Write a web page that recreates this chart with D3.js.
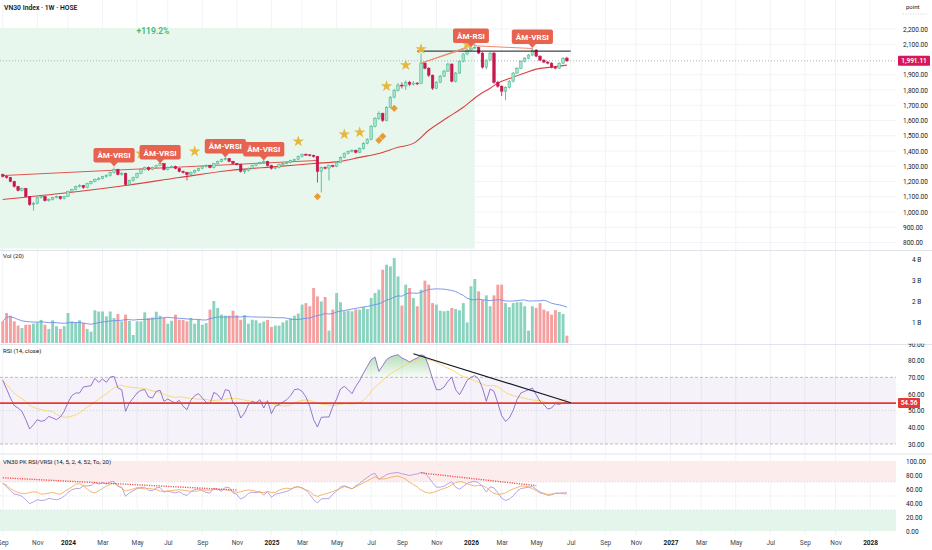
<!DOCTYPE html>
<html>
<head>
<meta charset="utf-8">
<title>VN30 Index 1W</title>
<script src="https://cdn.jsdelivr.net/npm/d3@7"></script>
<style>
  body { margin: 0; background: #fff; }
  svg { display: block; font-family: Roboto, "Noto Sans", sans-serif; }
</style>
</head>
<body>
<svg id="chart" width="932" height="550"></svg>
<script>
// weekly bars, the first one is the week of 4 Sep 2023
const firstWeek = new Date(2023, 8, 4);
const firstOpen = 1245;

const closes = [
  1233, 1226, 1200, 1167, 1141, 1154, 1101, 1049, 1055, 1095,
  1101, 1075, 1082, 1095, 1101, 1088, 1101, 1134, 1147, 1167,
  1174, 1160, 1187, 1200, 1213, 1220, 1233, 1239, 1259, 1279,
  1246, 1253, 1180, 1207, 1226, 1253, 1279, 1292, 1279, 1292,
  1305, 1318, 1279, 1292, 1299, 1286, 1266, 1259, 1246, 1259,
  1272, 1286, 1299, 1305, 1292, 1318, 1332, 1345, 1351, 1332,
  1318, 1312, 1266, 1272, 1286, 1305, 1318, 1325, 1332, 1305,
  1286, 1292, 1312, 1318, 1325, 1338, 1345, 1364, 1378, 1375,
  1371, 1364, 1266, 1292, 1288, 1305, 1299, 1325, 1358, 1384,
  1397, 1404, 1391, 1417, 1450, 1476, 1562, 1614, 1647, 1601,
  1687, 1753, 1799, 1832, 1826, 1851, 1838, 1845, 1842, 1976,
  1943, 1897, 1812, 1851, 1891, 1924, 1970, 1858, 1911, 1989,
  2036, 2062, 2075, 2080, 2042, 1950, 1996, 2042, 1851, 1825,
  1792, 1818, 1858, 1911, 1943, 1989, 2009, 2029, 2062, 2022,
  1996, 1983, 1976, 1950, 1943, 1976, 2009, 1991.11
];
const highs = [
  1252, 1240, 1230, 1205, 1172, 1160, 1158, 1105, 1068, 1100,
  1110, 1105, 1090, 1100, 1108, 1105, 1106, 1140, 1152, 1172,
  1182, 1178, 1192, 1205, 1220, 1228, 1238, 1248, 1265, 1292,
  1284, 1262, 1258, 1212, 1232, 1258, 1285, 1298, 1298, 1298,
  1310, 1326, 1322, 1298, 1306, 1304, 1290, 1272, 1264, 1265,
  1278, 1292, 1304, 1312, 1310, 1323, 1338, 1350, 1360, 1355,
  1336, 1322, 1316, 1280, 1292, 1310, 1324, 1330, 1340, 1336,
  1310, 1298, 1318, 1324, 1330, 1343, 1350, 1370, 1384, 1384,
  1380, 1376, 1368, 1298, 1300, 1310, 1310, 1330, 1364, 1390,
  1404, 1412, 1410, 1424, 1458, 1484, 1570, 1622, 1660, 1652,
  1694, 1760, 1808, 1845, 1850, 1862, 1860, 1858, 1852, 2040,
  1985, 1950, 1902, 1858, 1898, 1932, 1978, 1975, 1918, 1995,
  2042, 2070, 2090, 2115, 2085, 2048, 2002, 2050, 2050, 1860,
  1830, 1825, 1864, 1918, 1950, 1995, 2016, 2036, 2078, 2068,
  2028, 2002, 1990, 1982, 1958, 1982, 2015, 2018
];
const lows = [
  1226, 1218, 1195, 1160, 1135, 1135, 1095, 1040, 1010, 1050,
  1088, 1068, 1068, 1075, 1090, 1080, 1082, 1098, 1128, 1142,
  1160, 1152, 1155, 1180, 1195, 1208, 1215, 1225, 1232, 1252,
  1240, 1238, 1172, 1175, 1200, 1220, 1248, 1272, 1270, 1273,
  1286, 1300, 1272, 1272, 1285, 1280, 1260, 1252, 1207, 1240,
  1252, 1266, 1280, 1292, 1286, 1286, 1312, 1326, 1338, 1326,
  1312, 1305, 1258, 1250, 1265, 1280, 1300, 1312, 1318, 1298,
  1278, 1280, 1286, 1306, 1312, 1320, 1332, 1340, 1358, 1368,
  1364, 1356, 1193, 1128, 1280, 1207, 1292, 1294, 1320, 1352,
  1378, 1390, 1384, 1386, 1410, 1444, 1470, 1555, 1605, 1590,
  1595, 1680, 1745, 1790, 1810, 1800, 1825, 1830, 1832, 1838,
  1935, 1885, 1800, 1805, 1845, 1885, 1918, 1850, 1850, 1905,
  1982, 2028, 2055, 2068, 2035, 1940, 1935, 1990, 1840, 1815,
  1760, 1733, 1810, 1850, 1905, 1938, 1982, 2002, 2022, 2015,
  1990, 1976, 1968, 1942, 1936, 1938, 1970, 1985
];
// volume in billions
const volumes = [
  1.03, 1.43, 1.30, 1.03, 0.83, 0.71, 0.87, 0.87, 0.92, 0.98,
  1.10, 0.87, 0.67, 1.08, 0.80, 0.67, 0.80, 1.43, 1.03, 0.98,
  1.08, 0.95, 0.67, 0.54, 1.56, 1.50, 1.50, 1.27, 1.50, 1.19,
  1.38, 1.03, 1.35, 1.05, 0.38, 1.03, 1.03, 1.46, 1.19, 1.22,
  1.49, 1.30, 1.19, 0.92, 1.06, 1.35, 1.11, 1.10, 1.03, 1.19,
  0.92, 1.11, 0.87, 0.95, 1.59, 2.00, 1.67, 1.35, 1.30, 1.30,
  1.54, 1.32, 1.11, 1.33, 0.92, 1.11, 1.08, 0.95, 1.02, 1.10,
  0.76, 0.83, 0.83, 0.98, 1.08, 1.17, 1.30, 1.40, 1.83, 1.90,
  1.75, 2.62, 2.22, 1.98, 2.19, 0.59, 1.59, 2.38, 1.94, 1.51,
  1.54, 1.51, 1.60, 1.59, 1.71, 1.62, 2.14, 2.38, 2.54, 3.49,
  3.73, 3.65, 4.05, 3.17, 1.78, 2.78, 2.62, 2.14, 1.75, 2.54,
  2.97, 2.78, 1.90, 1.83, 1.54, 1.51, 1.54, 1.67, 1.62, 1.56,
  1.90, 0.98, 2.70, 3.05, 2.46, 2.06, 2.27, 1.75, 2.27, 2.78,
  2.78, 1.90, 1.71, 1.90, 1.94, 1.94, 1.75, 0.59, 1.75, 1.67,
  1.90, 1.59, 1.51, 1.35, 1.56, 1.48, 1.38, 0.35
];
const rsiValues = [
  68.2, 63.0, 57.6, 53.0, 51.6, 49.6, 44.6, 39.0, 41.6, 44.6,
  43.6, 44.2, 46.6, 45.6, 44.6, 46.2, 49.6, 55.0, 59.0, 60.6,
  60.6, 64.2, 64.6, 65.0, 69.4, 67.0, 69.0, 67.0, 70.2, 70.6,
  63.6, 62.6, 49.6, 54.6, 57.6, 60.6, 62.2, 62.6, 58.2, 57.6,
  61.6, 62.2, 55.6, 57.0, 55.6, 54.6, 56.2, 52.6, 50.6, 56.2,
  59.0, 60.2, 57.6, 55.0, 54.2, 61.0, 59.6, 56.6, 62.6, 62.0,
  54.6, 52.2, 45.6, 48.6, 53.6, 55.6, 54.6, 56.6, 51.6, 56.0,
  48.2, 52.6, 53.6, 55.2, 56.6, 59.0, 62.6, 63.0, 61.6, 58.2,
  52.6, 44.6, 40.2, 46.0, 46.2, 46.2, 52.6, 57.0, 63.0, 64.6,
  62.6, 60.2, 64.6, 68.0, 72.6, 76.6, 80.6, 82.2, 73.6, 77.0,
  80.6, 82.2, 83.0, 83.6, 81.6, 80.6, 79.2, 80.6, 81.6, 83.6,
  82.6, 76.6, 69.0, 62.6, 62.6, 64.2, 67.6, 70.2, 62.6, 59.6,
  63.6, 68.2, 70.0, 71.0, 69.0, 63.6, 55.6, 63.0, 61.6, 54.6,
  47.0, 43.6, 45.6, 50.2, 56.6, 60.6, 61.6, 62.6, 63.6, 59.6,
  55.6, 53.6, 51.0, 51.6, 54.2, 53.8, 54.6, 54.56
];
const vrsiValues = [
  68.0, 65.5, 60.5, 57.5, 55.0, 53.5, 53.5, 55.0, 56.0, 55.5,
  52.5, 53.0, 54.2, 55.0, 53.5, 52.5, 56.0, 59.5, 63.0, 67.0,
  67.5, 64.8, 60.0, 56.0, 54.3, 57.5, 61.0, 64.0, 66.8, 68.2,
  65.0, 61.0, 57.0, 58.5, 60.0, 62.0, 60.7, 60.3, 61.0, 60.0,
  59.0, 57.0, 56.7, 57.0, 57.8, 58.5, 59.0, 58.3, 57.5, 56.7,
  56.7, 57.5, 59.0, 58.4, 58.3, 59.5, 59.2, 59.0, 59.0, 58.0,
  56.3, 55.3, 56.0, 57.7, 58.6, 58.0, 56.7, 55.0, 54.8, 56.5,
  55.0, 55.2, 58.5, 60.3, 61.2, 60.3, 62.0, 63.6, 61.0, 58.6,
  56.7, 51.5, 49.5, 51.4, 53.0, 54.7, 56.4, 58.5, 60.8, 63.4,
  62.0, 60.4, 63.0, 65.8, 68.9, 71.6, 74.6, 77.6, 75.0, 74.2,
  75.1, 76.6, 77.8, 78.5, 76.7, 74.0, 69.6, 66.3, 63.0, 58.4,
  55.6, 54.1, 54.8, 56.6, 59.1, 60.7, 63.0, 66.0, 69.2, 70.5,
  69.6, 67.4, 65.5, 64.2, 65.1, 65.1, 62.1, 57.7, 53.7, 52.4,
  52.9, 54.5, 57.7, 60.2, 62.1, 64.0, 64.3, 62.9, 60.4, 57.8,
  54.2, 53.0, 52.2, 52.8, 53.4, 54.0, 53.2, 52.8
];

// long moving average at a few bars
const maBars = [0, 15, 32, 46, 59, 72, 81, 88, 93, 98, 103, 107, 111, 116, 120, 124, 127, 129, 133, 136, 139, 143, 147];
const maValues = [1082, 1121, 1174, 1226, 1272, 1299, 1318, 1332, 1358, 1384, 1424, 1450, 1536, 1621, 1687, 1766, 1812, 1845, 1884, 1911, 1937, 1950, 1963];

const priceTicks = [2200, 2100, 1900, 1800, 1700, 1600, 1500, 1400, 1300, 1200, 1100, 1000, 900, 800];
const volTicks = [1, 2, 3, 4];
const rsiTicks = [30, 40, 50, 60, 70, 80, 90];
const pkTicks = [0, 20, 40, 60, 80, 100];

const lastPrice = 1991.11;
const rsiLevel = 54.56;
const rangeEndBar = 123, rangeHigh = 2207, rangeLow = 760, rangeText = '+119.2%';

const labelBars = [29, 41, 58, 68, 122, 138];
const labelPrices = [1299, 1318, 1358, 1338, 2082, 2075];
const labelTexts = ['ÂM-VRSI', 'ÂM-VRSI', 'ÂM-VRSI', 'ÂM-VRSI', 'ÂM-RSI', 'ÂM-VRSI'];
const starBars = [36, 50, 77, 89, 93, 100, 105, 109, 121];
const starPrices = [1384, 1397, 1463, 1509, 1522, 1825, 1963, 2068, 2101];
const diamondBars = [82, 98, 99, 102];
const diamondPrices = [1101, 1470, 1496, 1680];

const channelLine = [[0, 1239], [82, 1338]];
const resistanceLine = [[108, 2055], [148, 2055]];
const divergenceLines = [
  [[109, 1976], [121, 2075]],
  [[109, 1976], [123, 2100]],
  [[123, 2090], [138, 2072]]
];
const rsiTrendLine = [[107, 84.1], [148, 54.8]];
const pkDivergence = [
  [[0, 76], [61, 58.6]],
  [[109, 83], [139, 64.8]]
];

// ---- setup
const svg = d3.select('#chart');
const defs = svg.append('defs');
const plotW = 896;
const panes = { main: [0, 250], vol: [251, 344], rsi: [345, 453], pk: [455, 535] };
Object.entries(panes).forEach(([k, [t, b]]) => {
  defs.append('clipPath').attr('id', 'clip-' + k)
    .append('rect').attr('x', 0).attr('y', t).attr('width', plotW).attr('height', b - t);
  defs.append('clipPath').attr('id', 'axclip-' + k)
    .append('rect').attr('x', plotW).attr('y', t - 1.5).attr('width', 40).attr('height', b - t + 1.5);
});

const barDate = i => d3.timeWeek.offset(firstWeek, i);
const x = d3.scaleTime().domain([new Date(2024, 0, 1), new Date(2028, 0, 1)]).range([68, 869]);
const yPrice = d3.scaleLinear().domain([800, 2200]).range([242.5, 29]);
const yVol = d3.scaleLinear().domain([0, 4]).range([343, 259]);
const yRsi = d3.scaleLinear().domain([30, 90]).range([444, 344]);
const yPk = d3.scaleLinear().domain([0, 100]).range([531, 461]);

const candles = closes.map((c, i) => ({
  i, date: barDate(i),
  open: i ? closes[i - 1] : firstOpen,
  high: highs[i], low: lows[i], close: c,
  vol: volumes[i], rsi: rsiValues[i], vrsi: vrsiValues[i]
}));
candles.forEach(d => { d.up = d.close >= d.open; });
candles.forEach((d, i) => {
  d.volMa = d3.mean(volumes.slice(Math.max(0, i - 19), i + 1));
  d.rsiMa = d3.mean(rsiValues.slice(Math.max(0, i - 13), i + 1));
});

const monthTicks = d3.timeMonth.range(new Date(2023, 8, 1), new Date(2028, 1, 1), 2)
  .map(m => d3.timeMonday.ceil(m));

// ---- grid
const grid = svg.append('g').attr('stroke', '#f1f3f6').attr('stroke-width', 1);
Object.values(panes).forEach(([t, b]) => {
  grid.append('g').selectAll('line').data(monthTicks).join('line')
    .attr('x1', d => x(d)).attr('x2', d => x(d)).attr('y1', t).attr('y2', b);
});
grid.append('g').selectAll('line').data(priceTicks).join('line')
  .attr('x1', 0).attr('x2', plotW).attr('y1', d => yPrice(d)).attr('y2', d => yPrice(d));

// pane separators
svg.append('g').attr('stroke', '#e0e3eb').selectAll('line').data([250.5, 344.5, 454]).join('line')
  .attr('x1', 0).attr('x2', 932).attr('y1', d => d).attr('y2', d => d);

// ---- main pane
const gMain = svg.append('g').attr('clip-path', 'url(#clip-main)');

gMain.append('rect')
  .attr('x', 0).attr('y', yPrice(rangeHigh))
  .attr('width', x(barDate(rangeEndBar)))
  .attr('height', yPrice(rangeLow) - yPrice(rangeHigh))
  .attr('fill', '#e8f7ee');

gMain.append('line')
  .attr('x1', 0).attr('x2', plotW)
  .attr('y1', yPrice(lastPrice)).attr('y2', yPrice(lastPrice))
  .attr('stroke', '#9aa0ab').attr('stroke-dasharray', '1,2').attr('stroke-width', 0.8);

const seg = (yScale) => d3.line().x(d => x(barDate(d[0]))).y(d => yScale(d[1]));

gMain.append('path').datum(channelLine)
  .attr('d', seg(yPrice)).attr('fill', 'none').attr('stroke', '#e0574f').attr('stroke-width', 1);

gMain.append('path').datum(maBars.map((b, k) => [b, maValues[k]]))
  .attr('d', seg(yPrice).curve(d3.curveMonotoneX))
  .attr('fill', 'none').attr('stroke', '#d9433f').attr('stroke-width', 1.1);

// candles
const upFill = '#a6e3c9', upLine = '#3fb38b', downCol = '#c8174c';
const bw = 2.6;
const cg = gMain.append('g').selectAll('g').data(candles).join('g');
cg.append('line')
  .attr('x1', d => x(d.date)).attr('x2', d => x(d.date))
  .attr('y1', d => yPrice(d.high)).attr('y2', d => yPrice(d.low))
  .attr('stroke', d => d.up ? upLine : downCol).attr('stroke-width', 0.8);
cg.append('rect')
  .attr('x', d => x(d.date) - bw / 2).attr('width', bw)
  .attr('y', d => yPrice(Math.max(d.open, d.close)))
  .attr('height', d => Math.max(0.8, Math.abs(yPrice(d.open) - yPrice(d.close))))
  .attr('fill', d => d.up ? upFill : downCol)
  .attr('stroke', d => d.up ? upLine : downCol).attr('stroke-width', 0.5);

gMain.append('path').datum(resistanceLine)
  .attr('d', seg(yPrice)).attr('fill', 'none').attr('stroke', '#131722').attr('stroke-width', 1);

gMain.append('g').selectAll('path').data(divergenceLines).join('path')
  .attr('d', seg(yPrice)).attr('fill', 'none').attr('stroke', '#f08a6c').attr('stroke-width', 1);

gMain.append('g').selectAll('path').data(starBars).join('path')
  .attr('transform', (b, k) => `translate(${x(barDate(b))},${yPrice(starPrices[k])})`)
  .attr('d', d3.symbol(d3.symbolStar, 42))
  .attr('fill', '#e6b93d');

gMain.append('g').selectAll('path').data(diamondBars).join('path')
  .attr('transform', (b, k) => `translate(${x(barDate(b))},${yPrice(diamondPrices[k])}) rotate(45)`)
  .attr('d', d3.symbol(d3.symbolSquare, 26))
  .attr('fill', '#e89b2e');

// signal labels
const lab = gMain.append('g').selectAll('g').data(labelTexts).join('g');
lab.each(function (t, k) {
  const g = d3.select(this);
  const tx = x(barDate(labelBars[k])), ty = yPrice(labelPrices[k]);
  const text = g.append('text')
    .attr('x', tx).attr('y', ty - 8).attr('text-anchor', 'middle')
    .attr('fill', '#fff').attr('font-size', 8).attr('font-weight', 700).text(t);
  const w = text.node().getComputedTextLength() + 8;
  g.insert('path', 'text')
    .attr('d', `M${tx - 4},${ty - 4.5}L${tx},${ty}L${tx + 4},${ty - 4.5}Z`)
    .attr('fill', '#e8634f');
  g.insert('rect', 'text')
    .attr('x', tx - w / 2).attr('y', ty - 18.5).attr('width', w).attr('height', 14.5)
    .attr('rx', 2).attr('fill', '#e8634f');
});

gMain.append('text')
  .attr('x', 153).attr('y', 34).attr('text-anchor', 'middle')
  .attr('fill', '#43b86b').attr('font-size', 8.5).attr('font-weight', 600).text(rangeText);

svg.append('text').attr('x', 4).attr('y', 10)
  .attr('font-size', 6.8).attr('font-weight', 600).attr('fill', '#131722')
  .text('VN30 Index · 1W · HOSE');

// ---- volume pane
const gVol = svg.append('g').attr('clip-path', 'url(#clip-vol)');
gVol.append('g').selectAll('rect').data(candles).join('rect')
  .attr('x', d => x(d.date) - 1.45).attr('width', 2.9)
  .attr('y', d => yVol(d.vol)).attr('height', d => yVol(0) - yVol(d.vol))
  .attr('fill', d => d.up ? '#89d3bf' : '#f4a0a0');
gVol.append('path').datum(candles)
  .attr('d', d3.line().x(d => x(d.date)).y(d => yVol(d.volMa)))
  .attr('fill', 'none').attr('stroke', '#6d8fe8').attr('stroke-width', 0.9);
svg.append('text').attr('x', 3).attr('y', 258).attr('font-size', 6).attr('fill', '#131722').text('Vol (20)');

// ---- RSI pane
const gRsi = svg.append('g').attr('clip-path', 'url(#clip-rsi)');
gRsi.append('rect').attr('x', 0).attr('width', plotW)
  .attr('y', yRsi(70)).attr('height', yRsi(30) - yRsi(70))
  .attr('fill', '#7e57c2').attr('fill-opacity', 0.08);
gRsi.append('g').selectAll('line').data([70, 30]).join('line')
  .attr('x1', 0).attr('x2', plotW).attr('y1', d => yRsi(d)).attr('y2', d => yRsi(d))
  .attr('stroke', '#a9acb5').attr('stroke-dasharray', '3,2').attr('stroke-width', 0.8);
gRsi.append('line').attr('x1', 0).attr('x2', plotW).attr('y1', yRsi(50)).attr('y2', yRsi(50))
  .attr('stroke', '#c5c8cf').attr('stroke-dasharray', '1,2').attr('stroke-width', 0.8);

const grad = defs.append('linearGradient').attr('id', 'obGrad')
  .attr('gradientUnits', 'userSpaceOnUse').attr('x1', 0).attr('x2', 0)
  .attr('y1', yRsi(85)).attr('y2', yRsi(70));
grad.append('stop').attr('offset', 0).attr('stop-color', '#4caf50').attr('stop-opacity', 0.45);
grad.append('stop').attr('offset', 1).attr('stop-color', '#4caf50').attr('stop-opacity', 0.04);
gRsi.append('path').datum(candles)
  .attr('d', d3.area().x(d => x(d.date)).y0(yRsi(70)).y1(d => yRsi(Math.max(70, d.rsi))))
  .attr('fill', 'url(#obGrad)');

gRsi.append('path').datum(candles)
  .attr('d', d3.line().x(d => x(d.date)).y(d => yRsi(d.rsiMa)))
  .attr('fill', 'none').attr('stroke', '#f5d76e').attr('stroke-width', 0.9);
gRsi.append('path').datum(candles)
  .attr('d', d3.line().x(d => x(d.date)).y(d => yRsi(d.rsi)))
  .attr('fill', 'none').attr('stroke', '#7e57c2').attr('stroke-width', 0.8);
gRsi.append('line').attr('x1', 0).attr('x2', plotW)
  .attr('y1', yRsi(rsiLevel)).attr('y2', yRsi(rsiLevel))
  .attr('stroke', '#e53935').attr('stroke-width', 1.8);
gRsi.append('path').datum(rsiTrendLine)
  .attr('d', seg(yRsi)).attr('fill', 'none').attr('stroke', '#131722').attr('stroke-width', 1.1);
svg.append('text').attr('x', 3).attr('y', 353).attr('font-size', 6).attr('fill', '#131722').text('RSI (14, close)');

// ---- PK RSI / VRSI pane
const gPk = svg.append('g').attr('clip-path', 'url(#clip-pk)');
gPk.append('rect').attr('x', 0).attr('width', plotW)
  .attr('y', yPk(100)).attr('height', yPk(70) - yPk(100)).attr('fill', '#fdecec');
gPk.append('rect').attr('x', 0).attr('width', plotW)
  .attr('y', yPk(30)).attr('height', yPk(0) - yPk(30)).attr('fill', '#e4f6ec');
gPk.append('g').selectAll('line').data([70, 50, 30]).join('line')
  .attr('x1', 0).attr('x2', plotW).attr('y1', d => yPk(d)).attr('y2', d => yPk(d))
  .attr('stroke', '#cfd2d8').attr('stroke-dasharray', '1,2').attr('stroke-width', 0.7);
gPk.append('path').datum(candles)
  .attr('d', d3.line().x(d => x(d.date)).y(d => yPk(d.rsi)))
  .attr('fill', 'none').attr('stroke', '#a58be0').attr('stroke-width', 0.8);
gPk.append('path').datum(candles)
  .attr('d', d3.line().x(d => x(d.date)).y(d => yPk(d.vrsi)))
  .attr('fill', 'none').attr('stroke', '#f0a44b').attr('stroke-width', 0.8);
gPk.append('g').selectAll('path').data(pkDivergence).join('path')
  .attr('d', seg(yPk)).attr('fill', 'none').attr('stroke', '#ef5350')
  .attr('stroke-width', 1.4).attr('stroke-dasharray', '1.2,1.2');
svg.append('text').attr('x', 3).attr('y', 464).attr('font-size', 6).attr('fill', '#131722')
  .text('VN30 PK RSI/VRSI (14, 5, 2, 4, 52, To, 20)');

// ---- axes (clip sits on an outer group so it stays in page coordinates)
function styleAxis(g) {
  g.select('.domain').remove();
  g.selectAll('text').attr('font-size', 6.5).attr('fill', '#131722').attr('font-family', 'Roboto, sans-serif');
}
function rightAxis(pane, axis) {
  svg.append('g').attr('clip-path', `url(#axclip-${pane})`)
    .append('g').attr('transform', `translate(${plotW},0)`)
    .call(axis).call(styleAxis);
}
rightAxis('main', d3.axisRight(yPrice).tickValues(priceTicks).tickSize(0).tickPadding(7).tickFormat(d3.format(',.2f')));
rightAxis('vol', d3.axisRight(yVol).tickValues(volTicks).tickSize(0).tickPadding(16).tickFormat(d => d + ' B'));
rightAxis('rsi', d3.axisRight(yRsi).tickValues(rsiTicks).tickSize(0).tickPadding(12).tickFormat(d3.format('.2f')));
rightAxis('pk', d3.axisRight(yPk).tickValues(pkTicks).tickSize(0).tickPadding(10).tickFormat(d3.format('.2f')));

svg.append('text').attr('x', 906).attr('y', 9).attr('font-size', 6).attr('fill', '#131722').text('point');
svg.append('line').attr('x1', 903).attr('x2', 928).attr('y1', 14).attr('y2', 14)
  .attr('stroke', '#b2b5be').attr('stroke-dasharray', '1,1.5').attr('stroke-width', 0.6);

// last price and RSI level tags
function tag(y, text, fill, w) {
  svg.append('rect').attr('x', 898).attr('y', y - 5).attr('width', w).attr('height', 10)
    .attr('rx', 1).attr('fill', fill);
  svg.append('text').attr('x', 898 + w / 2).attr('y', y + 2.3).attr('text-anchor', 'middle')
    .attr('font-size', 6.5).attr('font-weight', 600).attr('fill', '#fff').text(text);
}
tag(yPrice(lastPrice), d3.format(',.2f')(lastPrice), '#d6185a', 32);
tag(yRsi(rsiLevel), d3.format('.2f')(rsiLevel), '#e53935', 22);

// time axis
const xAxis = svg.append('g').attr('transform', 'translate(0,538)')
  .call(d3.axisBottom(x).tickValues(monthTicks).tickSize(0).tickPadding(2)
    .tickFormat(d => d.getMonth() === 0 ? d3.timeFormat('%Y')(d) : d3.timeFormat('%b')(d)))
  .call(styleAxis);
xAxis.selectAll('text')
  .attr('font-weight', d => d.getMonth() === 0 ? 700 : 400)
  .attr('fill', d => d.getMonth() === 0 ? '#131722' : '#434651');
</script>
</body>
</html>
